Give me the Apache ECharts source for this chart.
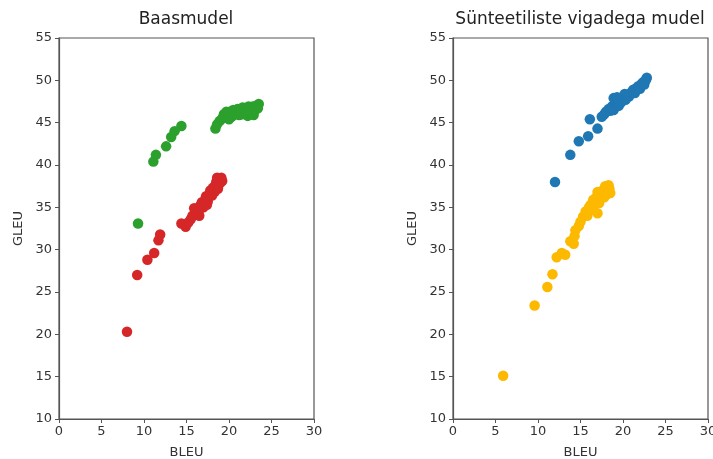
<!DOCTYPE html>
<html><head><meta charset="utf-8">
<script src="https://cdn.jsdelivr.net/npm/echarts@6/dist/echarts.min.js"></script>
<style>html,body{margin:0;padding:0;background:#fff}#c{width:713px;height:459px}</style>
</head><body><div id="c"></div>
<script>
const titles = ["Baasmudel", "Sünteetiliste vigadega mudel"];
const xTicks = [0, 5, 10, 15, 20, 25, 30];
const yTicks = [10, 15, 20, 25, 30, 35, 40, 45, 50, 55];
const baseGreen = [[9.3,33.1],[11.1,40.4],[11.4,41.2],[12.6,42.2],[13.2,43.3],[13.6,44.0],[14.4,44.6],
 [18.4,44.3],[18.6,44.8],[18.9,45.2],[19.2,45.5],[19.4,46.0],[19.6,45.6],[19.9,45.9],[20.1,46.3],[20.3,45.7],
 [20.5,46.5],[20.8,46.0],[21.0,46.6],[21.2,45.9],[21.4,46.4],[21.6,46.8],[21.8,46.1],[22.0,46.5],[22.2,45.8],
 [22.4,46.7],[22.6,46.2],[22.8,46.9],[23.0,46.4],[23.2,47.0],[23.4,46.7],[23.5,47.2],[22.9,45.9],[20.0,45.4],
 [19.7,46.3],[21.5,46.0],[22.3,46.9]];
const baseRed = [[8.0,20.3],[9.2,27.0],[10.4,28.8],[11.2,29.6],[11.7,31.1],[11.9,31.8],
 [14.4,33.1],[14.9,32.7],[15.2,33.2],[15.5,33.6],[15.7,34.0],[16.0,34.3],[16.2,34.8],[16.4,34.4],[16.6,35.2],
 [16.8,35.6],[17.0,35.0],[17.2,35.9],[17.3,36.3],[17.5,35.7],[17.7,36.6],[17.8,37.0],[18.0,36.4],[18.1,37.3],
 [18.3,36.8],[18.4,37.6],[18.5,38.0],[18.7,37.2],[18.8,38.3],[18.9,37.8],[19.1,38.5],[19.2,38.1],[18.6,38.5],
 [17.4,35.3],[16.5,34.0],[15.9,34.9]];
const synBlue = [[12.0,38.0],[13.8,41.2],[14.8,42.8],[15.9,43.4],[17.0,44.3],[16.1,45.4],
 [17.5,45.7],[17.8,46.0],[18.0,46.3],[18.3,46.6],[18.5,46.4],[18.7,46.9],[19.0,47.2],[19.2,46.9],[19.4,47.5],
 [19.6,47.8],[19.8,47.4],[20.0,48.0],[20.3,47.7],[20.5,48.3],[20.7,48.1],[21.0,48.6],[21.2,48.9],[21.4,48.5],
 [21.6,49.1],[21.8,49.3],[22.0,49.0],[22.2,49.6],[22.4,49.8],[22.5,49.5],[22.7,50.1],[22.8,50.3],[22.6,49.9],
 [18.9,46.5],[19.5,47.0],[20.2,48.4],[18.9,47.9],[19.3,48.0]];
const synOrange = [[5.9,15.1],[9.6,23.4],[11.1,25.6],[11.7,27.1],[12.2,29.1],[12.8,29.6],[13.2,29.4],
 [13.8,31.0],[14.2,30.7],[14.3,31.6],[14.4,32.3],[14.8,32.8],[15.0,33.3],[15.3,33.9],[15.6,34.5],[15.8,34.0],
 [16.0,35.0],[16.2,35.3],[16.4,34.7],[16.6,35.6],[16.8,36.1],[17.0,36.8],[17.0,34.3],[17.2,35.5],[17.4,36.4],
 [17.6,37.0],[17.8,36.2],[18.0,37.3],[18.2,36.6],[18.3,37.6],[18.5,36.7],[18.4,37.2],[17.9,37.5],[16.5,35.9]];

const font = "DejaVu Sans";
const grids = [{left:59, right:399, top:38, bottom:40}, {left:453, right:5, top:38, bottom:40}];
function xAxis(i){return {type:'value', gridIndex:i, min:xTicks[0], max:xTicks[xTicks.length-1], interval:5,
  name:'BLEU', nameLocation:'middle', nameGap:27, nameTextStyle:{color:'#333',fontFamily:font,fontSize:13},
  axisLine:{show:true,lineStyle:{color:'#555',width:1.2}}, axisTick:{show:true,length:4,lineStyle:{color:'#555'}},
  axisLabel:{color:'#333',fontFamily:font,fontSize:13,margin:6}, splitLine:{show:false}};}
function yAxis(i){return {type:'value', gridIndex:i, min:yTicks[0], max:yTicks[yTicks.length-1], interval:5,
  name:'GLEU', nameLocation:'middle', nameGap:34, nameTextStyle:{color:'#333',fontFamily:font,fontSize:13},
  axisLine:{show:true,lineStyle:{color:'#555',width:1.2}}, axisTick:{show:true,length:4,lineStyle:{color:'#555'}},
  axisLabel:{color:'#333',fontFamily:font,fontSize:13,margin:7}, splitLine:{show:false}};}
const chart = echarts.init(document.getElementById('c'), null, {renderer:'canvas'});
chart.setOption({
  animation:false, backgroundColor:'#fff',
  title:[{text:titles[0], left:181, top:6, textAlign:'center', textStyle:{fontFamily:font,fontSize:17,fontWeight:'normal',color:'#222'}},
         {text:titles[1], left:575, top:6, textAlign:'center', textStyle:{fontFamily:font,fontSize:17,fontWeight:'normal',color:'#222'}}],
  grid: grids.map(g=>Object.assign({show:true,borderColor:'#555',borderWidth:1.2,backgroundColor:'transparent',containLabel:false,outerBoundsMode:'none'},g)),
  xAxis:[xAxis(0), xAxis(1)],
  yAxis:[yAxis(0), yAxis(1)],
  series:[
    {type:'scatter', xAxisIndex:0, yAxisIndex:0, data:baseGreen, symbolSize:10.5, itemStyle:{color:'#2ca02c',opacity:1}},
    {type:'scatter', xAxisIndex:0, yAxisIndex:0, data:baseRed, symbolSize:10.5, itemStyle:{color:'#d62728',opacity:1}},
    {type:'scatter', xAxisIndex:1, yAxisIndex:1, data:synBlue, symbolSize:10.5, itemStyle:{color:'#1f77b4',opacity:1}},
    {type:'scatter', xAxisIndex:1, yAxisIndex:1, data:synOrange, symbolSize:10.5, itemStyle:{color:'#fcb900',opacity:1}}
  ]
});
</script></body></html>
